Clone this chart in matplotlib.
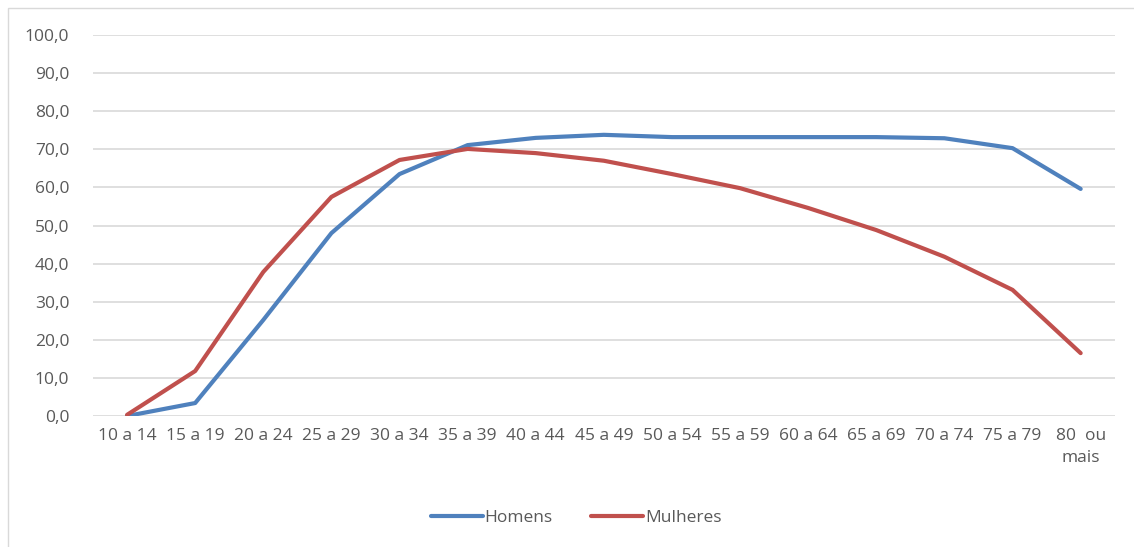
import matplotlib
matplotlib.use("Agg")
import matplotlib.pyplot as plt
from matplotlib.patches import Rectangle
import numpy as np

categories = ["10 a 14", "15 a 19", "20 a 24", "25 a 29", "30 a 34", "35 a 39",
              "40 a 44", "45 a 49", "50 a 54", "55 a 59", "60 a 64", "65 a 69",
              "70 a 74", "75 a 79", "80  ou\nmais"]
homens = [0.0, 3.4, 25.2, 48.0, 63.5, 71.1, 73.0, 73.8, 73.2, 73.2, 73.2, 73.2, 72.9, 70.3, 59.6]
mulheres = [0.3, 11.8, 37.8, 57.5, 67.2, 70.1, 69.0, 67.0, 63.5, 59.8, 54.6, 48.8, 41.8, 33.1, 16.5]
yticks = [0, 10, 20, 30, 40, 50, 60, 70, 80, 90, 100]

TEXT = "#595959"
GRID = "#d9d9d9"
BLUE = "#4f81bd"
RED = "#c0504d"

plt.rcParams["font.family"] = ["Open Sans", "DejaVu Sans"]

fig = plt.figure(figsize=(11.34, 5.47), dpi=100)
ax = fig.add_axes([0.082, 0.2395, 0.901, 0.6965])

# outer chart border
fig.patches.append(Rectangle((8 / 1134, -0.01), 1.02, 1 - 8 / 547 + 0.01,
                             transform=fig.transFigure, fill=False,
                             edgecolor=GRID, linewidth=1))

x = np.arange(len(categories))
ax.plot(x, homens, color=BLUE, lw=3, solid_capstyle="round", solid_joinstyle="round", label="Homens")
ax.plot(x, mulheres, color=RED, lw=3, solid_capstyle="round", solid_joinstyle="round", label="Mulheres")

ax.set_xlim(-0.5, len(categories) - 0.5)
ax.set_ylim(0, 100)
ax.set_yticks(yticks)
ax.set_yticklabels([f"{v:.1f}".replace(".", ",") for v in yticks])
ax.set_xticks(x)
ax.set_xticklabels(categories, linespacing=1.5)
ax.tick_params(axis="both", length=0, colors=TEXT, labelsize=12.5)
ax.tick_params(axis="y", pad=17)
ax.tick_params(axis="x", pad=9)
ax.grid(axis="y", color=GRID, lw=1.2)
ax.set_axisbelow(True)
for s in ax.spines.values():
    s.set_visible(False)

leg = fig.legend(loc="center", bbox_to_anchor=(0.508, 0.053), ncol=2, frameon=False,
                 fontsize=12.5, handlelength=3.0, handletextpad=0.1, columnspacing=2.2)
for t in leg.get_texts():
    t.set_color(TEXT)

fig.savefig("out.png", dpi=100)
